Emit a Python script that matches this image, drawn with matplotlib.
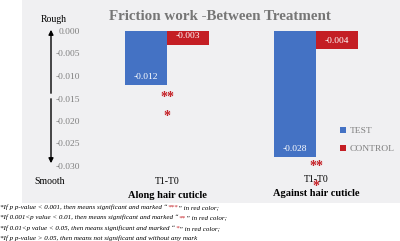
import matplotlib
matplotlib.use("Agg")
import matplotlib.pyplot as plt
from matplotlib.patches import Rectangle
from matplotlib.offsetbox import TextArea, HPacker, AnchoredOffsetbox

plt.rcParams['font.family'] = ['Liberation Serif', 'DejaVu Serif']

categories = ["T1-T0", "T1-T0"]
groups = ["Along hair cuticle", "Against hair cuticle"]
test_vals = [-0.012, -0.028]
control_vals = [-0.003, -0.004]
test_labels = ["-0.012", "-0.028"]
control_labels = ["-0.003", "-0.004"]
star_marks = [["**", "*"], ["**", "*"]]
star_y = [[-0.0147, -0.0189], [-0.0301, -0.0345]]
yticks = [0.0, -0.005, -0.010, -0.015, -0.020, -0.025, -0.030]

W, H = 400, 241
fig = plt.figure(figsize=(W / 100, H / 100), dpi=100)
fig.patch.set_facecolor('white')
bg = '#F0F0F2'
fig.patches.append(Rectangle((22 / W, 1 - 203 / H), 1 - 22 / W, 203 / H,
                             transform=fig.transFigure, facecolor=bg,
                             edgecolor='none', zorder=-10))

ax_left, ax_right = 90 / W, 398 / W
ax_top, ax_bot = 1 - 31 / H, 1 - 166 / H
ax = fig.add_axes([ax_left, ax_bot, ax_right - ax_left, ax_top - ax_bot])
ax.set_facecolor('none')
for s in ax.spines.values():
    s.set_visible(False)

blue = '#4472C4'
red = '#C41E24'
bw = 0.285
x = [0, 1]
b1 = ax.bar([xi - bw / 2 for xi in x], test_vals, bw, color=blue, label='TEST')
b2 = ax.bar([xi + bw / 2 for xi in x], control_vals, bw, color=red, label='CONTROL')

for xi, v, lab in zip(x, test_vals, test_labels):
    ax.text(xi - bw / 2, v + 0.0018, lab, ha='center', va='center',
            color='white', fontsize=6.8)
for xi, v, lab in zip(x, control_vals, control_labels):
    ax.text(xi + bw / 2, v + 0.0018, lab, ha='center', va='center',
            color='white', fontsize=6.8)

for xi, marks, ys in zip(x, star_marks, star_y):
    for m, yy in zip(marks, ys):
        ax.text(xi, yy, m, ha='center', va='center', color=red,
                fontsize=10, fontweight='bold', clip_on=False, zorder=5)

ax.set_ylim(-0.030, 0.0)
ax.set_xlim((90 - 167) / 149, (398 - 167) / 149)
ax.set_yticks(yticks)
ax.set_yticklabels([f"{t:.3f}" for t in yticks], color='#7F7F7F', fontsize=6.8)
ax.tick_params(axis='y', length=0, pad=7)
ax.set_xticks([])

# category labels
for xi, c, g, dy in zip(x, categories, groups, [0, -2]):
    ax.annotate(c, xy=(xi, 0), xycoords=('data', 'figure fraction'),
                xytext=(xi, 1 - (182 + dy) / H), textcoords=('data', 'figure fraction'),
                ha='center', va='center', fontsize=7, color='black')
    ax.annotate(g, xy=(xi, 0), xycoords=('data', 'figure fraction'),
                xytext=(xi, 1 - (195 + dy) / H), textcoords=('data', 'figure fraction'),
                ha='center', va='center', fontsize=7.5, fontweight='bold', color='black')

fig.text(220 / W, 1 - 16 / H, "Friction work -Between Treatment", ha='center',
         va='center', fontsize=10.8, fontweight='bold', color='#767676')

# Rough/Smooth arrow
fig.patches.append(matplotlib.patches.FancyArrowPatch(
    (51 / W, 1 - 96 / H), (51 / W, 1 - 27 / H), transform=fig.transFigure,
    arrowstyle='-|>', mutation_scale=7, color='black', lw=1.0))
fig.patches.append(matplotlib.patches.FancyArrowPatch(
    (51 / W, 1 - 96 / H), (51 / W, 1 - 166 / H), transform=fig.transFigure,
    arrowstyle='-|>', mutation_scale=7, color='black', lw=1.0))
fig.text(54 / W, 1 - 20 / H, "Rough", ha='center', va='center', fontsize=7)
fig.text(50 / W, 1 - 182 / H, "Smooth", ha='center', va='center', fontsize=7)

ax.legend(handles=[b1, b2], loc='upper left', bbox_to_anchor=(340 / W, 1 - 127 / H),
          bbox_transform=fig.transFigure, frameon=False, fontsize=6.8,
          labelcolor='#7F7F7F', handlelength=0.6, handleheight=0.6,
          handletextpad=0.4, labelspacing=1.0, borderaxespad=0, borderpad=0)

# footnotes
notes = [
    ['*If p p-value < 0.001, then means significant and marked \u201c', '***', '\u201d in red color;'],
    ['*If 0.001<p value < 0.01, then means significant and marked \u201c', '**', '\u201d in red color;'],
    ['*If 0.01<p value < 0.05, then means significant and marked \u201c', '*', '\u201d in red color;'],
    ['*If p p-value > 0.05, then means not significant and without any mark'],
]
fs = 5.0
for i, parts in enumerate(notes):
    areas = []
    for j, p in enumerate(parts):
        col = red if j == 1 else 'black'
        areas.append(TextArea(p, textprops=dict(fontsize=fs, style='italic', color=col)))
    box = HPacker(children=areas, align='baseline', pad=0, sep=0)
    ab = AnchoredOffsetbox(loc='center left', child=box, frameon=False, pad=0,
                           borderpad=0, bbox_to_anchor=(0 / W, 1 - (207 + 10.5 * i) / H),
                           bbox_transform=fig.transFigure)
    fig.add_artist(ab)

fig.savefig('out.png', dpi=100)
